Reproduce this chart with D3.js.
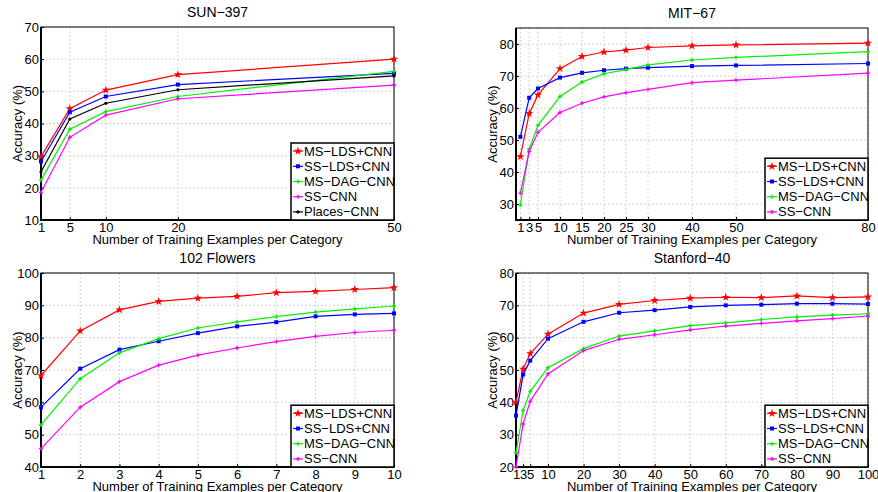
<!DOCTYPE html>
<html>
<head>
<meta charset="utf-8">
<script src="https://cdn.jsdelivr.net/npm/d3@7"></script>
<style>
  body { margin: 0; background: #fff; }
  svg { font-family: "Liberation Sans", Arial, Helvetica, sans-serif; }
  .grid line { stroke: #c8c8c8; stroke-dasharray: 2,2; stroke-width: 0.8; }
</style>
</head>
<body>
<div id="chart"></div>
<script>
const MINUS = "\u2212";

// series names and colours
const seriesNames = ["MS" + MINUS + "LDS+CNN", "SS" + MINUS + "LDS+CNN", "MS" + MINUS + "DAG" + MINUS + "CNN", "SS" + MINUS + "CNN", "Places" + MINUS + "CNN"];
const seriesColours = ["#ff0000", "#0000ff", "#00f000", "#ff00ff", "#000000"];

// SUN-397
const sunX = [1, 5, 10, 20, 50];
const sunMsLds = [29.7, 44.6, 50.4, 55.2, 60.0];
const sunSsLds = [28.2, 43.5, 48.4, 52.1, 55.6];
const sunMsDag = [22.4, 38.2, 43.7, 48.4, 56.2];
const sunSsCnn = [18.6, 35.7, 42.6, 47.7, 51.9];
const sunPlaces = [25.0, 41.4, 46.3, 50.5, 54.8];

// MIT-67
const mitX = [1, 3, 5, 10, 15, 20, 25, 30, 40, 50, 80];
const mitMsLds = [44.8, 58.3, 64.1, 72.3, 76.1, 77.5, 78.1, 78.9, 79.4, 79.7, 80.3];
const mitSsLds = [51.0, 63.2, 66.1, 69.5, 71.0, 71.8, 72.3, 72.6, 73.1, 73.3, 73.9];
const mitMsDag = [29.7, 47.2, 54.6, 63.6, 68.1, 70.7, 72.0, 73.5, 75.0, 75.8, 77.6];
const mitSsCnn = [33.4, 46.4, 52.4, 58.6, 61.5, 63.5, 64.8, 65.8, 67.9, 68.7, 70.9];

// 102 Flowers
const flowX = [1, 2, 3, 4, 5, 6, 7, 8, 9, 10];
const flowMsLds = [68.3, 82.1, 88.6, 91.2, 92.2, 92.8, 93.9, 94.3, 94.9, 95.5];
const flowSsLds = [58.5, 70.4, 76.3, 78.9, 81.4, 83.5, 84.8, 86.6, 87.2, 87.5];
const flowMsDag = [53.0, 67.3, 75.3, 79.7, 83.0, 84.9, 86.5, 87.9, 88.9, 89.8];
const flowSsCnn = [45.7, 58.5, 66.4, 71.5, 74.6, 76.8, 78.8, 80.4, 81.6, 82.3];

// Stanford-40
const stanX = [1, 3, 5, 10, 20, 30, 40, 50, 60, 70, 80, 90, 100];
const stanMsLds = [40.1, 50.3, 55.1, 61.1, 67.6, 70.3, 71.5, 72.2, 72.5, 72.4, 72.9, 72.4, 72.6];
const stanSsLds = [35.9, 48.6, 52.9, 59.7, 64.9, 67.7, 68.5, 69.5, 70.0, 70.2, 70.5, 70.5, 70.4];
const stanMsDag = [24.4, 37.5, 43.4, 50.7, 56.6, 60.5, 62.1, 63.7, 64.6, 65.6, 66.4, 67.0, 67.4];
const stanSsCnn = [20.0, 33.3, 40.3, 48.8, 56.0, 59.5, 60.9, 62.4, 63.6, 64.4, 65.2, 65.9, 66.7];

const width = 878;
const height = 492;

const panels = [
    { title: "SUN" + MINUS + "397", box: [41, 394, 27, 220], xDomain: [1, 50], yDomain: [10, 70],
      xTicks: sunX, yTicks: d3.range(10, 71, 10), x: sunX,
      series: [sunMsLds, sunSsLds, sunMsDag, sunSsCnn, sunPlaces] },
    { title: "MIT" + MINUS + "67", box: [516, 868, 28, 220], xDomain: [0, 80], yDomain: [25, 85],
      xTicks: mitX, yTicks: d3.range(30, 81, 10), x: mitX,
      series: [mitMsLds, mitSsLds, mitMsDag, mitSsCnn] },
    { title: "102 Flowers", box: [41, 394, 273, 467], xDomain: [1, 10], yDomain: [40, 100],
      xTicks: flowX, yTicks: d3.range(40, 101, 10), x: flowX,
      series: [flowMsLds, flowSsLds, flowMsDag, flowSsCnn] },
    { title: "Stanford" + MINUS + "40", box: [516, 868, 273, 467], xDomain: [1, 100], yDomain: [20, 80],
      xTicks: stanX, yTicks: d3.range(20, 81, 10), x: stanX,
      series: [stanMsLds, stanSsLds, stanMsDag, stanSsCnn] }
];

const svg = d3.select("#chart").append("svg")
    .attr("width", width)
    .attr("height", height);

// marker drawn for series i at (0,0)
function drawMarker(g, i) {
    const c = seriesColours[i];
    if (i === 0) {
        g.append("path").attr("d", d3.symbol().type(d3.symbolStar).size(22)()).attr("fill", c);
    } else if (i === 1) {
        g.append("rect").attr("x", -2).attr("y", -2).attr("width", 4).attr("height", 4).attr("fill", c);
    } else if (i === 4) {
        g.append("circle").attr("r", 1.6).attr("fill", c);
    } else {
        g.append("path").attr("d", d3.symbol().type(d3.symbolCross).size(9)()).attr("fill", c);
    }
}

panels.forEach(p => {
    const [left, right, top, bottom] = p.box;
    const x = d3.scaleLinear().domain(p.xDomain).range([left, right]);
    const y = d3.scaleLinear().domain(p.yDomain).range([bottom, top]);
    const g = svg.append("g");

    // grid
    const grid = g.append("g").attr("class", "grid");
    grid.selectAll(".gx").data(p.xTicks).enter().append("line")
        .attr("x1", d => x(d)).attr("x2", d => x(d)).attr("y1", top).attr("y2", bottom);
    grid.selectAll(".gy").data(p.yTicks).enter().append("line")
        .attr("x1", left).attr("x2", right).attr("y1", d => y(d)).attr("y2", d => y(d));

    // axes
    const xAxis = g.append("g").attr("transform", `translate(0,${bottom})`)
        .call(d3.axisBottom(x).tickValues(p.xTicks).tickSizeInner(-3).tickSizeOuter(0).tickPadding(5));
    const yAxis = g.append("g").attr("transform", `translate(${left},0)`)
        .call(d3.axisLeft(y).tickValues(p.yTicks).tickSizeInner(-3).tickSizeOuter(0).tickPadding(2));
    [xAxis, yAxis].forEach(a => {
        a.select(".domain").remove();
        a.selectAll("text").attr("font-size", 13).attr("fill", "#000").attr("font-family", null);
        a.selectAll("line").attr("stroke", "#000");
    });
    xAxis.selectAll("text").attr("dy", "0.55em");

    // frame: thick left/bottom, thin top/right
    g.append("rect").attr("x", left).attr("y", top).attr("width", right - left).attr("height", bottom - top)
        .attr("fill", "none").attr("stroke", "#000").attr("stroke-width", 1);
    g.append("path").attr("d", `M${left},${top}V${bottom}H${right}`)
        .attr("fill", "none").attr("stroke", "#000").attr("stroke-width", 2);

    // lines
    const line = d3.line().x(d => x(d[0])).y(d => y(d[1]));
    p.series.forEach((vals, i) => {
        const pts = p.x.map((xv, k) => [xv, vals[k]]);
        g.append("path").datum(pts).attr("d", line)
            .attr("fill", "none").attr("stroke", seriesColours[i]).attr("stroke-width", 1.2);
        pts.forEach(d => {
            const m = g.append("g").attr("transform", `translate(${x(d[0])},${y(d[1])})`);
            drawMarker(m, i);
        });
    });

    // title and labels
    const cx = (left + right) / 2;
    g.append("text").attr("x", cx).attr("y", top - 10).attr("text-anchor", "middle")
        .attr("font-size", 14).text(p.title);
    g.append("text").attr("x", cx).attr("y", bottom + 24).attr("text-anchor", "middle")
        .attr("font-size", 13).text("Number of Training Examples per Category");
    g.append("text").attr("transform", `translate(${left - 19},${(top + bottom) / 2}) rotate(-90)`)
        .attr("text-anchor", "middle").attr("font-size", 13).text("Accuracy (%)");

    // legend
    const n = p.series.length;
    const rowH = 15.2;
    const lw = 103;
    const lh = n * rowH + 1;
    const lx = right - lw;
    const ly = bottom - lh;
    const leg = g.append("g");
    leg.append("rect").attr("x", lx).attr("y", ly).attr("width", lw).attr("height", lh)
        .attr("fill", "#fff").attr("stroke", "#000").attr("stroke-width", 1.5);
    seriesNames.slice(0, n).forEach((name, i) => {
        const ry = ly + rowH * i + rowH / 2 + 0.5;
        leg.append("line").attr("x1", lx + 2).attr("x2", lx + 12).attr("y1", ry).attr("y2", ry)
            .attr("stroke", seriesColours[i]).attr("stroke-width", 1.2);
        drawMarker(leg.append("g").attr("transform", `translate(${lx + 7},${ry})`), i);
        leg.append("text").attr("x", lx + 13).attr("y", ry + 4.5).attr("font-size", 13)
            .text(name);
    });
});
</script>
</body>
</html>
